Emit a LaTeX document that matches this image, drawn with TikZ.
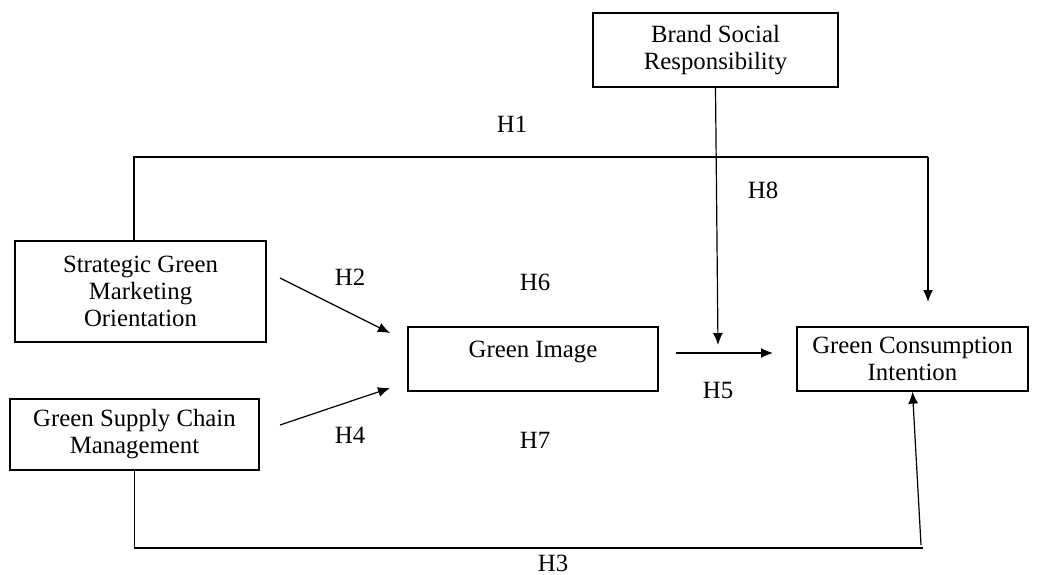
\documentclass[tikz,border=0pt]{standalone}
\usepackage{fontspec}
\setmainfont{Liberation Serif}
\usepackage{tikz}
\usetikzlibrary{arrows.meta}

\tikzset{
	var/.style={draw, line width=0.6pt, align=center, inner sep=0pt, font=\fontsize{12.4}{13.5}\selectfont},
	hyp/.style={font=\fontsize{12.4}{13.5}\selectfont},
	link/.style={line width=0.6pt},
	arr/.style={link, -{Latex[length=6pt,width=5pt]}}
}

\begin{document}
\begin{tikzpicture}[x=0.5pt, y=-0.5pt]
	\useasboundingbox (0,0) rectangle (1039,574);
	% boxes
	\node[var, minimum width=122.5pt, minimum height=37pt] (bsr) at (715.5,50) {Brand Social\\Responsibility};
	\node[var, minimum width=125.5pt, minimum height=50.5pt] (sgmo) at (140.5,291.5) {Strategic Green\\Marketing\\Orientation};
	\node[var, minimum width=124.5pt, minimum height=35.5pt] (gscm) at (134.5,434.5) {Green Supply Chain\\Management};
	\node[var, minimum width=125pt, minimum height=32pt, text depth=9.7pt] (gi) at (533,359) {Green Image};
	\node[var, minimum width=115.5pt, minimum height=32pt] (gci) at (912.5,359) {Green Consumption\\Intention};
	% loose ends
	\coordinate (h1r) at (928,157);
	\coordinate (h1e) at (928,302);
	\coordinate (h2s) at (280,278);
	\coordinate (h2e) at (390,333);
	\coordinate (h4s) at (280,425);
	\coordinate (h4e) at (390,388);
	\coordinate (h5s) at (676,353);
	\coordinate (h5e) at (773,353);
	\coordinate (h8e) at (718,345);
	\coordinate (h3r) at (923,548);
	\coordinate (h3b) at (921,545);
	% paths
	\draw[link] ([xshift=-3.25pt]sgmo.north) |- (h1r);
	\draw[arr] (h1r) -- (h1e);
	\draw[arr] (h2s) -- (h2e);
	\draw[arr] (h4s) -- (h4e);
	\draw[arr] (h5s) -- (h5e);
	\draw[arr] (bsr.south) -- (h8e);
	\draw[link] (gscm.south) |- (h3r);
	\draw[arr] (h3b) -- (gci.south);
	% labels
	\node[hyp] (l1) at (512,124) {H1};
	\node[hyp] (l2) at (350,277) {H2};
	\node[hyp] (l3) at (553,563) {H3};
	\node[hyp] (l4) at (350,435) {H4};
	\node[hyp] (l5) at (718,390) {H5};
	\node[hyp] (l6) at (535,282) {H6};
	\node[hyp] (l7) at (535,440) {H7};
	\node[hyp] (l8) at (763,190) {H8};
\end{tikzpicture}
\end{document}
